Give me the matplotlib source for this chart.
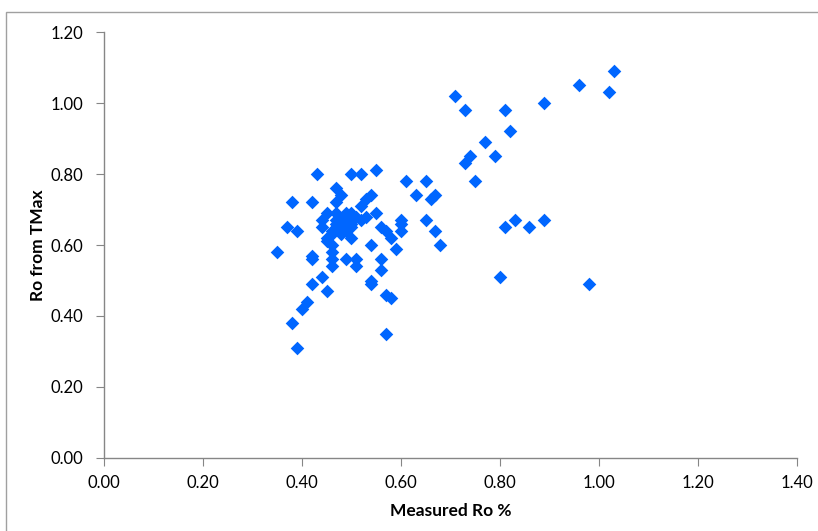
import matplotlib.pyplot as plt
from matplotlib.patches import Rectangle

# Measured Ro % vs Ro from TMax
measured_ro = [
    1.03, 0.96, 1.02, 0.71, 0.73, 0.81, 0.89, 0.82, 0.77, 0.74, 0.73, 0.79, 0.75,
    0.81, 0.83, 0.86, 0.89, 0.80, 0.98,
    0.43, 0.50, 0.52, 0.55, 0.61, 0.65, 0.47, 0.38, 0.42, 0.48, 0.47,
    0.54, 0.53, 0.52, 0.63, 0.67, 0.66, 0.55, 0.65, 0.67, 0.68,
    0.60, 0.60, 0.60, 0.56, 0.57, 0.58, 0.59, 0.54,
    0.37, 0.39, 0.35, 0.42, 0.42, 0.46, 0.46, 0.44, 0.42, 0.45,
    0.41, 0.40, 0.38, 0.39, 0.57, 0.49, 0.51, 0.51, 0.56, 0.56,
    0.54, 0.54, 0.57, 0.58,
    0.44, 0.44, 0.45, 0.45, 0.45, 0.46, 0.46, 0.46, 0.46, 0.47, 0.47, 0.47,
    0.48, 0.48, 0.48, 0.49, 0.49, 0.49, 0.49, 0.50, 0.50, 0.50, 0.50,
    0.51, 0.52, 0.53, 0.49, 0.48,
]
ro_tmax = [
    1.09, 1.05, 1.03, 1.02, 0.98, 0.98, 1.00, 0.92, 0.89, 0.85, 0.83, 0.85, 0.78,
    0.65, 0.67, 0.65, 0.67, 0.51, 0.49,
    0.80, 0.80, 0.80, 0.81, 0.78, 0.78, 0.76, 0.72, 0.72, 0.74, 0.72,
    0.74, 0.73, 0.71, 0.74, 0.74, 0.73, 0.69, 0.67, 0.64, 0.60,
    0.67, 0.66, 0.64, 0.65, 0.64, 0.62, 0.59, 0.60,
    0.65, 0.64, 0.58, 0.57, 0.56, 0.56, 0.54, 0.51, 0.49, 0.47,
    0.44, 0.42, 0.38, 0.31, 0.35, 0.56, 0.56, 0.54, 0.56, 0.53,
    0.50, 0.49, 0.46, 0.45,
    0.67, 0.65, 0.69, 0.62, 0.61, 0.64, 0.63, 0.60, 0.58, 0.69, 0.67, 0.66,
    0.65, 0.64, 0.63, 0.69, 0.66, 0.65, 0.64, 0.69, 0.66, 0.65, 0.62,
    0.68, 0.67, 0.68, 0.67, 0.67,
]

x_ticks = [0.0, 0.2, 0.4, 0.6, 0.8, 1.0, 1.2, 1.4]
y_ticks = [0.0, 0.2, 0.4, 0.6, 0.8, 1.0, 1.2]

plt.rcParams['font.family'] = ['Lato', 'DejaVu Sans']

fig = plt.figure(figsize=(8.18, 5.31), dpi=100)
ax = fig.add_axes([0.127, 0.1375, 0.847, 0.8022])

ax.scatter(measured_ro, ro_tmax, marker='D', s=48, color='#0066ff', linewidths=0, zorder=3)

ax.set_xlim(0, 1.4)
ax.set_ylim(0, 1.2)
ax.set_xticks(x_ticks)
ax.set_yticks(y_ticks)
ax.set_xticklabels(['%.2f' % v for v in x_ticks], fontsize=12)
ax.set_yticklabels(['%.2f' % v for v in y_ticks], fontsize=12)
ax.tick_params(direction='out', length=6, color='#868686', labelcolor='black')
ax.tick_params(axis='y', pad=9)
ax.tick_params(axis='x', pad=6)

for side in ['top', 'right']:
    ax.spines[side].set_visible(False)
for side in ['left', 'bottom']:
    ax.spines[side].set_color('#868686')
    ax.spines[side].set_linewidth(1)

ax.set_xlabel('Measured Ro %', fontsize=12.5, fontweight='bold', labelpad=9)
ax.set_ylabel('Ro from TMax', fontsize=12.5, fontweight='bold', labelpad=3)

# chart area border
fig.patches.append(Rectangle((6 / 818, -0.1), 1.2, (531 - 12) / 531 + 0.1,
                             transform=fig.transFigure, fill=False,
                             edgecolor='#a0a0a0', linewidth=1))

fig.savefig('out.png', dpi=100)
